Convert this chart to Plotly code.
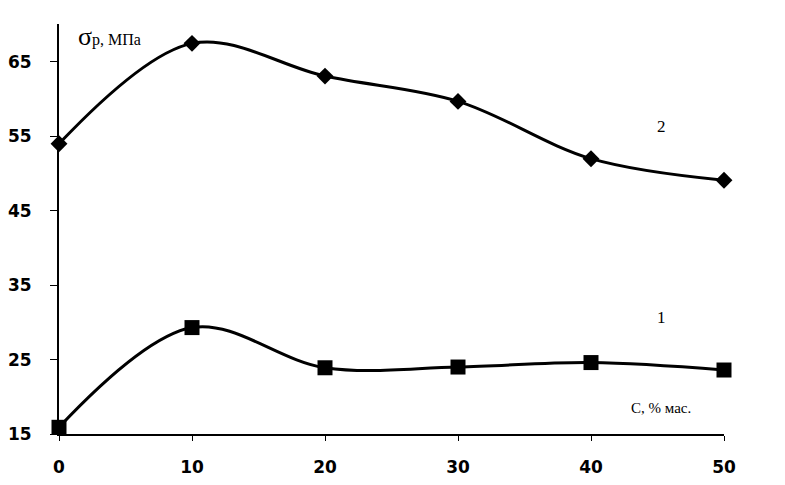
import plotly.graph_objects as go

c_pct = [0, 10, 20, 30, 40, 50]
sigma_1 = [15.9, 29.3, 23.9, 24.0, 24.6, 23.6]
sigma_2 = [54.0, 67.5, 63.1, 59.7, 52.0, 49.1]
y_ticks = [15, 25, 35, 45, 55, 65]
x_ticks = [0, 10, 20, 30, 40, 50]

fig = go.Figure()
fig.add_trace(go.Scatter(x=c_pct, y=sigma_2, mode="lines+markers",
                         line=dict(color="black", width=3, shape="spline", smoothing=1.0),
                         marker=dict(symbol="diamond", size=13, color="black"),
                         cliponaxis=False, showlegend=False))
fig.add_trace(go.Scatter(x=c_pct, y=sigma_1, mode="lines+markers",
                         line=dict(color="black", width=3, shape="spline", smoothing=1.0),
                         marker=dict(symbol="square", size=15, color="black"),
                         cliponaxis=False, showlegend=False))

tickfont = dict(family="DejaVu Sans", size=17, color="black", weight="bold")
fig.update_xaxes(range=[0, 50], tickvals=x_ticks, ticktext=[str(v) for v in x_ticks],
                 showline=True, linecolor="black", linewidth=2, ticks="outside",
                 ticklen=5, tickcolor="black", showgrid=False, zeroline=False,
                 tickfont=tickfont, ticklabelstandoff=12, automargin=False)
fig.update_yaxes(range=[15, 70.1], tickvals=y_ticks, ticktext=[str(v) for v in y_ticks],
                 showline=True, linecolor="black", linewidth=2, ticks="outside",
                 ticklen=7, tickcolor="black", showgrid=False, zeroline=False,
                 tickfont=tickfont, ticklabelstandoff=15, automargin=False)

serif = "Liberation Serif"
fig.add_annotation(x=1.3, y=68.4, xanchor="left", showarrow=False,
                   text="<span style='font-size:26px'>σ</span>р, МПа",
                   font=dict(family=serif, size=16, color="black"))
ann = [("2", 45.3, 56.3), ("1", 45.3, 30.6)]
for t, xv, yv in ann:
    fig.add_annotation(x=xv, y=yv, text=t, showarrow=False,
                       font=dict(family=serif, size=17, color="black"))
fig.add_annotation(x=45.3, y=18.5, text="C, % мас.", showarrow=False,
                   font=dict(family=serif, size=15, color="black"))

fig.update_layout(width=785, height=485, margin=dict(l=51, r=69, t=16, b=59),
                  plot_bgcolor="white", paper_bgcolor="white")
fig.write_html("out.html")
